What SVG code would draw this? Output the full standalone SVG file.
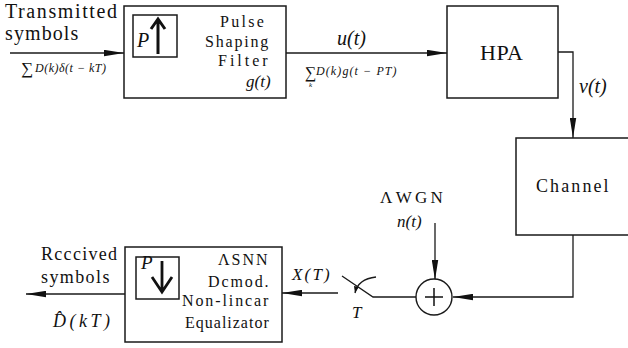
<svg xmlns="http://www.w3.org/2000/svg" width="628" height="348" viewBox="0 0 628 348">
<style>
.bx{fill:#fff;stroke:#1a1a1a;stroke-width:1.5}
.ln{fill:none;stroke:#1a1a1a;stroke-width:1.3}
</style>
<defs>
<marker id="ah" viewBox="0 0 20 7" refX="20" refY="3.5" markerWidth="20" markerHeight="7" markerUnits="userSpaceOnUse" orient="auto">
<path d="M0,0.3 L20,3.5 L0,6.7 z" fill="#111"/>
</marker>
<marker id="sm" viewBox="0 0 8 6" refX="8" refY="3" markerWidth="7" markerHeight="5" markerUnits="userSpaceOnUse" orient="auto">
<path d="M0,0 L8,3 L0,6 z" fill="#111"/>
</marker>
</defs>
<rect width="628" height="348" fill="#fff"/>

<g id="connectors">
<path class="ln" d="M10,53 H124" marker-end="url(#ah)"/>
<path class="ln" d="M286,53 H447" marker-end="url(#ah)"/>
<path class="ln" d="M558,52 H573 V138" marker-end="url(#ah)"/>
<path class="ln" d="M573,235 V297 H453" marker-end="url(#ah)"/>
<path class="ln" d="M435,223 V280" marker-end="url(#ah)"/>
<path class="ln" d="M416,297 H373 L342,276"/>
<path class="ln" d="M376,277 Q358,279 355,293" marker-end="url(#sm)"/>
<path class="ln" d="M338,293 H282" marker-end="url(#ah)"/>
<path class="ln" d="M125,294 H26" marker-end="url(#ah)"/>
</g>

<g id="input-label" font-family="Liberation Serif" fill="#111">
<text x="5" y="18" font-size="20" letter-spacing="1.6">Transmitted</text>
<text x="5" y="40" font-size="20" letter-spacing="1.1">symbols</text>
<text x="21" y="74" font-size="17">∑</text>
<text x="35" y="72" font-size="12" font-style="italic" letter-spacing="0.5">D(k)δ(t − kT)</text>
</g>

<g id="pulse-shaping" font-family="Liberation Serif" fill="#111">
<rect class="bx" x="124" y="6" width="162" height="92"/>
<rect class="bx" x="133" y="15" width="44" height="42" stroke-width="1.2"/>
<text x="137" y="47" font-size="20" font-style="italic">P</text>
<path d="M158,54 V19 M151,29 L158,19 L165,29" fill="none" stroke="#111" stroke-width="3"/>
<text x="220" y="27" font-size="16" letter-spacing="2.3">Pulse</text>
<text x="205" y="47" font-size="16" letter-spacing="1.8">Shaping</text>
<text x="218" y="66" font-size="16" letter-spacing="3">Filter</text>
<text x="246" y="87" font-size="17" font-style="italic">g(t)</text>
</g>

<g id="u-label" font-family="Liberation Serif" fill="#111">
<text x="337" y="45" font-size="20" font-style="italic">u(t)</text>
<text x="305" y="78" font-size="16">∑</text>
<text x="309" y="87" font-size="7" font-style="italic">k</text>
<text x="316" y="75" font-size="12" font-style="italic" letter-spacing="1.1">D(k)g(t − PT)</text>
</g>

<g id="hpa" font-family="Liberation Serif" fill="#111">
<rect class="bx" x="447" y="6" width="111" height="92"/>
<text x="480" y="60" font-size="22" letter-spacing="0.5">HPA</text>
</g>

<g id="v-label" font-family="Liberation Serif" fill="#111">
<text x="579" y="93" font-size="20" font-style="italic">v(t)</text>
</g>

<g id="channel" font-family="Liberation Serif" fill="#111">
<path class="bx" d="M629,138 H516 V235 H629"/>
<text x="536" y="192" font-size="18" letter-spacing="2.1">Channel</text>
</g>

<g id="awgn" font-family="Liberation Serif" fill="#111">
<text x="380" y="203" font-size="17" letter-spacing="3.3">ΛWGN</text>
<text x="397" y="227" font-size="17" font-style="italic">n(t)</text>
</g>

<g id="sum">
<circle cx="434" cy="297" r="18" fill="#fff" stroke="#1a1a1a" stroke-width="1.4"/>
<path d="M434,288 V306 M425,297 H443" stroke="#111" stroke-width="1.5"/>
</g>

<g id="switch-label" font-family="Liberation Serif" fill="#111">
<text x="352" y="318" font-size="17" font-style="italic">T</text>
<text x="292" y="280" font-size="17" font-style="italic" letter-spacing="2.2">X(T)</text>
</g>

<g id="equalizer" font-family="Liberation Serif" fill="#111">
<rect class="bx" x="125" y="247" width="157" height="95"/>
<rect class="bx" x="136" y="257" width="43" height="42" stroke-width="1.2"/>
<text x="141" y="269" font-size="19" font-style="italic">P</text>
<path d="M162,261 V291 M152,277 L162,292 L172,277" fill="none" stroke="#111" stroke-width="2.8"/>
<text x="218" y="265" font-size="16" letter-spacing="2">ΛSNN</text>
<text x="208" y="287" font-size="16" letter-spacing="1.9">Dcmod.</text>
<text x="182" y="306" font-size="16" letter-spacing="1.9">Non-lincar</text>
<text x="185" y="328" font-size="16" letter-spacing="1">Equalizator</text>
</g>

<g id="output-label" font-family="Liberation Serif" fill="#111">
<text x="41" y="260" font-size="18" letter-spacing="1.3">Rcccived</text>
<text x="41" y="283" font-size="18" letter-spacing="1.4">symbols</text>
<text x="53" y="327" font-size="18" font-style="italic" letter-spacing="3.5">D̂(kT)</text>
</g>
</svg>
